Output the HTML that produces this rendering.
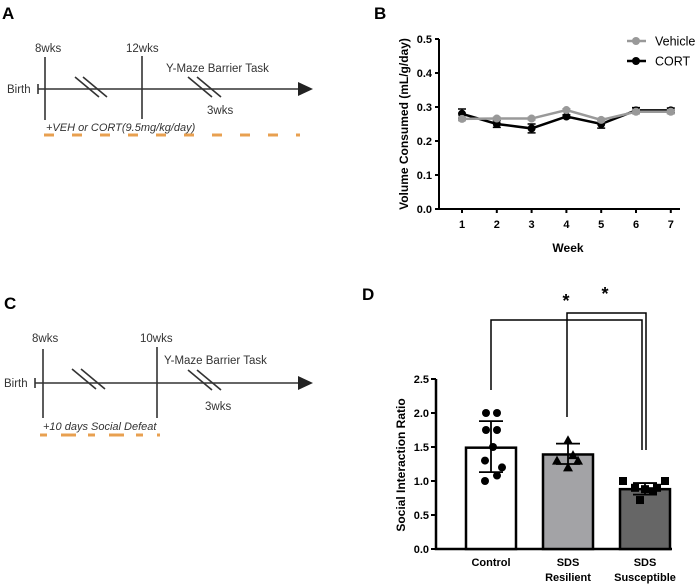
<!DOCTYPE html>
<html><head><meta charset="utf-8"><style>
body{margin:0;background:#fff}
svg{display:block;font-family:"Liberation Sans",Arial,sans-serif}
</style></head><body>
<svg width="700" height="587" viewBox="0 0 700 587">
<!-- Panel A -->
<g stroke="#333" stroke-width="1.6" fill="none">
<line x1="38" y1="89" x2="300" y2="89"/>
<line x1="38" y1="84" x2="38" y2="94"/>
<line x1="45" y1="57" x2="45" y2="120"/>
<line x1="142" y1="56" x2="142" y2="119"/>
<line x1="75" y1="77" x2="99" y2="97"/><line x1="83" y1="77" x2="107" y2="97"/>
<line x1="188" y1="77" x2="212" y2="97"/><line x1="197" y1="77" x2="221" y2="97"/>
<polygon points="298,82 313,89 298,96" fill="#222" stroke="none"/>
</g>
<text x="2" y="19" font-size="17" font-weight="bold">A</text>
<g font-size="11.5" fill="#333">
<text x="35" y="52">8wks</text>
<text x="126" y="52">12wks</text>
<text x="166" y="72">Y-Maze Barrier Task</text>
<text x="207" y="114">3wks</text>
<text x="7" y="93">Birth</text>
<text x="46" y="131" font-size="11" font-style="italic">+VEH or CORT(9.5mg/kg/day)</text>
</g>
<line x1="44" y1="135" x2="300" y2="135" stroke="#E8A050" stroke-width="3" stroke-dasharray="10,18"/>

<!-- Panel C -->
<g stroke="#333" stroke-width="1.6" fill="none">
<line x1="35" y1="383" x2="300" y2="383"/>
<line x1="35" y1="378" x2="35" y2="388"/>
<line x1="43" y1="349" x2="43" y2="418"/>
<line x1="157" y1="347" x2="157" y2="418"/>
<line x1="72" y1="369" x2="96" y2="389"/><line x1="81" y1="369" x2="105" y2="389"/>
<line x1="188" y1="370" x2="212" y2="390"/><line x1="197" y1="370" x2="221" y2="390"/>
<polygon points="298,376 313,383 298,390" fill="#222" stroke="none"/>
</g>
<text x="4" y="309" font-size="17" font-weight="bold">C</text>
<g font-size="11.5" fill="#333">
<text x="32" y="342">8wks</text>
<text x="140" y="342">10wks</text>
<text x="164" y="364">Y-Maze Barrier Task</text>
<text x="205" y="410">3wks</text>
<text x="4" y="387">Birth</text>
<text x="43" y="430" font-size="11" font-style="italic">+10 days Social Defeat</text>
</g>
<line x1="40" y1="435" x2="160" y2="435" stroke="#E8A050" stroke-width="3" stroke-dasharray="7,14,15,12"/>

<text x="374" y="19" font-size="17" font-weight="bold">B</text>
<text x="362" y="300" font-size="17" font-weight="bold">D</text>
<g id="chartB"></g>
<g id="chartD"></g>
</svg>
<script>
const weeks=[1,2,3,4,5,6,7];
const vehicle=[0.265,0.266,0.266,0.291,0.262,0.286,0.286];
const vehicleErr=[0.005,0.004,0.004,0.004,0.005,0.006,0.006];
const cort=[0.28,0.25,0.237,0.272,0.25,0.29,0.29];
const cortErr=[0.014,0.01,0.013,0.005,0.012,0.008,0.007];
const yTicksB=[0.0,0.1,0.2,0.3,0.4,0.5];

const groups=["Control","SDS Resilient","SDS Susceptible"];
const means=[1.49,1.39,0.88];
const sdLo=[1.13,1.25,0.80];
const sdHi=[1.88,1.55,0.97];
const fills=["#ffffff","#a3a3a6","#666666"];
const controlPts=[2.0,2.0,1.75,1.75,1.5,1.3,1.2,1.08,1.0];
const resilientPts=[1.6,1.38,1.3,1.3,1.2];
const susceptiblePts=[1.0,1.0,0.9,0.88,0.85,0.9,0.72];
const yTicksD=[0.0,0.5,1.0,1.5,2.0,2.5];

const NS="http://www.w3.org/2000/svg";
function mk(p,t,a){const e=document.createElementNS(NS,t);for(const k in a)e.setAttribute(k,a[k]);p.appendChild(e);return e;}

// Chart B
const B=document.getElementById('chartB');
const bx=w=>462+(w-1)*34.8, by=v=>209-v*340;
let ax=mk(B,'path',{d:`M439,${by(0.5)} V209 H680`,stroke:'#000','stroke-width':2,fill:'none'});

yTicksB.forEach(t=>{mk(B,'line',{x1:435,x2:439,y1:by(t),y2:by(t),stroke:'#000','stroke-width':2});
 const tx=mk(B,'text',{x:432,y:by(t)+4,'text-anchor':'end','font-size':11,'font-weight':'bold'});tx.textContent=t.toFixed(1);
 });
weeks.forEach(w=>{mk(B,'line',{x1:bx(w),x2:bx(w),y1:209,y2:213,stroke:'#000','stroke-width':2});
 const tx=mk(B,'text',{x:bx(w),y:228,'text-anchor':'middle','font-size':11,'font-weight':'bold'});tx.textContent=w;
 });
let t=mk(B,'text',{x:568,y:252,'text-anchor':'middle','font-size':12,'font-weight':'bold'});t.textContent='Week';

t=mk(B,'text',{x:0,y:0,'text-anchor':'middle','font-size':12,'font-weight':'bold',transform:'translate(408,124) rotate(-90)'});t.textContent='Volume Consumed (mL/g/day)';

function series(vals,errs,col,name){
 const g=mk(B,'g',{});
 mk(g,'polyline',{points:weeks.map((w,i)=>bx(w)+','+by(vals[i])).join(' '),stroke:col,'stroke-width':2.5,fill:'none'});
 weeks.forEach((w,i)=>{const x=bx(w);mk(g,'path',{d:`M${x},${by(vals[i]-errs[i])}V${by(vals[i]+errs[i])}M${x-4},${by(vals[i]-errs[i])}h8M${x-4},${by(vals[i]+errs[i])}h8`,stroke:col,'stroke-width':1.5,fill:'none'});
 const c=mk(g,'circle',{cx:x,cy:by(vals[i]),r:4,fill:col});});
}
series(cort,cortErr,'#000','cort-series');
series(vehicle,vehicleErr,'#999','vehicle-series');
[['Vehicle','#999',41],['CORT','#000',61]].forEach(([n,c,y])=>{
 const g=mk(B,'g',{});
 mk(g,'line',{x1:627,x2:646,y1:y,y2:y,stroke:c,'stroke-width':2.5});mk(g,'circle',{cx:636,cy:y,r:4,fill:c});
 const tx=mk(g,'text',{x:655,y:y+4.5,'font-size':12.5});tx.textContent=n;});

// Chart D
const D=document.getElementById('chartD');
const dy=v=>549-v*68, cx=[491,568,645];
ax=mk(D,'path',{d:`M436,${dy(2.5)} V549 H672`,stroke:'#000','stroke-width':2.5,fill:'none'});

yTicksD.forEach(v=>{mk(D,'line',{x1:431,x2:436,y1:dy(v),y2:dy(v),stroke:'#000','stroke-width':2});
 const tx=mk(D,'text',{x:429,y:dy(v)+4,'text-anchor':'end','font-size':11,'font-weight':'bold'});tx.textContent=v.toFixed(1);
 });
t=mk(D,'text',{x:0,y:0,'text-anchor':'middle','font-size':12,'font-weight':'bold',transform:'translate(405,465) rotate(-90)'});t.textContent='Social Interaction Ratio';

const pts=[controlPts,resilientPts,susceptiblePts];
const jitter=[[-5,6,-5,6,2,-6,11,6,-6],[0,5,-11,10,0],[-22,20,-10,0,8,12,-5]];
groups.forEach((gname,i)=>{
 const x=cx[i];
 const r=mk(D,'rect',{x:x-25,y:dy(means[i]),width:50,height:549-dy(means[i]),fill:fills[i],stroke:'#000','stroke-width':2.5});
 
 mk(D,'path',{d:`M${x},${dy(sdLo[i])}V${dy(sdHi[i])}M${x-12},${dy(sdLo[i])}h24M${x-12},${dy(sdHi[i])}h24`,stroke:'#000','stroke-width':1.8,fill:'none'});
 pts[i].forEach((v,j)=>{const px=x+jitter[i][j%jitter[i].length],py=dy(v);let m;
  if(i===0)m=mk(D,'circle',{cx:px,cy:py,r:4,fill:'#000'});
  else if(i===1)m=mk(D,'polygon',{points:`${px},${py-5} ${px-5},${py+4} ${px+5},${py+4}`,fill:'#000'});
  else m=mk(D,'rect',{x:px-4,y:py-4,width:8,height:8,fill:'#000'});
  });
 const parts=gname.split(' ');
 parts.forEach((p,k)=>{const tx=mk(D,'text',{x:x,y:(parts.length===1?566:566+k*15),'text-anchor':'middle','font-size':11,'font-weight':'bold'});tx.textContent=p;
  });
});
let br=mk(D,'path',{d:`M491,390V320H642V450`,stroke:'#000','stroke-width':1.5,fill:'none'});

br=mk(D,'path',{d:`M567,417V313H646V450`,stroke:'#000','stroke-width':1.5,fill:'none'});

[[566,307],[605,300]].forEach(([x,y])=>{const s=mk(D,'text',{x:x,y:y,'text-anchor':'middle','font-size':18,'font-weight':'bold'});s.textContent='*';
 });
</script>
</body></html>
